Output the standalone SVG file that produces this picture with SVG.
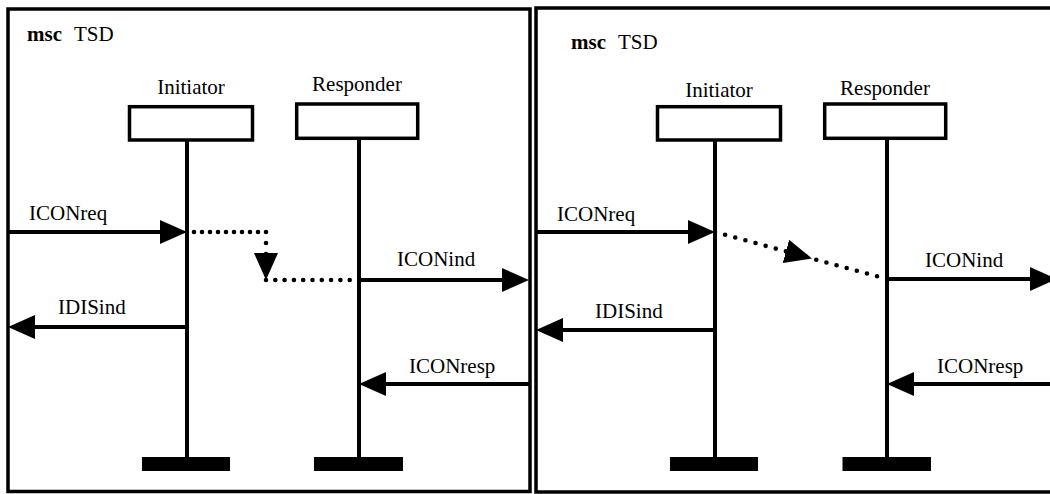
<svg xmlns="http://www.w3.org/2000/svg" width="1050" height="494" viewBox="0 0 1050 494">
<style>
.frame{fill:none;stroke:#000;stroke-width:3.5}
.box{fill:#fff;stroke:#000;stroke-width:3.5}
.life{stroke:#000;stroke-width:4;fill:none}
.msg{stroke:#000;stroke-width:4;fill:none;marker-end:url(#ah)}
.dot{stroke:#000;stroke-width:4.6;stroke-linecap:round;fill:none}
.bar{fill:#000}
text{font-family:"Liberation Serif","Times New Roman",serif;font-size:21px;fill:#000}
.b{font-weight:bold}
.c{text-anchor:middle}
</style>
<defs>
<marker id="ah" markerUnits="userSpaceOnUse" viewBox="0 0 28 24" markerWidth="28" markerHeight="24" refX="17" refY="12" orient="auto">
<path d="M0,0 L27,12 L0,24 z" fill="#000"/>
</marker>
</defs>
<rect width="1050" height="494" fill="#fff"/>
<g id="frame-left">
<rect class="frame" x="8" y="9" width="522" height="482.5"/>
<text x="27" y="41"><tspan class="b">msc</tspan><tspan x="74">TSD</tspan></text>
</g>
<g id="frame-right">
<rect class="frame" x="536" y="8" width="530" height="484"/>
<text x="571" y="48.5"><tspan class="b">msc</tspan><tspan x="618">TSD</tspan></text>
</g>
<g id="initiator-left">
<text class="c" x="191" y="93.5">Initiator</text>
<rect class="box" x="129.5" y="106.7" width="123" height="33.3"/>
<line class="life" x1="187" y1="140" x2="187" y2="458"/>
<rect class="bar" x="142" y="457" width="88" height="14"/>
</g>
<g id="responder-left">
<text class="c" x="357" y="91">Responder</text>
<rect class="box" x="296.7" y="104" width="121" height="34.3"/>
<line class="life" x1="359" y1="138" x2="359" y2="458"/>
<rect class="bar" x="314" y="457" width="89" height="14"/>
</g>
<g id="initiator-right">
<text class="c" x="719" y="96.5">Initiator</text>
<rect class="box" x="657.5" y="106.7" width="123" height="33.3"/>
<line class="life" x1="715" y1="140" x2="715" y2="458"/>
<rect class="bar" x="670" y="457" width="88" height="14"/>
</g>
<g id="responder-right">
<text class="c" x="885" y="95">Responder</text>
<rect class="box" x="824.7" y="104" width="121" height="34.3"/>
<line class="life" x1="887" y1="138" x2="887" y2="458"/>
<rect class="bar" x="842.5" y="457" width="88.5" height="14"/>
</g>
<g id="connectors">
<path class="msg" d="M8,232 H177"/>
<text x="29" y="220">ICONreq</text>
<path class="dot" d="M194,232 H266" stroke-dasharray="0 8"/>
<path class="dot" d="M266,232 V262" stroke-dasharray="0 11"/>
<path d="M266,260 V270" fill="none" stroke="none" style="marker-end:url(#ah)"/>
<path class="dot" d="M266,280 H359" stroke-dasharray="0 9.3"/>
<path class="msg" d="M359,280 H519"/>
<text x="397" y="266">ICONind</text>
<path class="msg" d="M187,327 H18"/>
<text x="58" y="314">IDISind</text>
<path class="msg" d="M529,384 H369"/>
<text x="409" y="372.5">ICONresp</text>

<path class="msg" d="M536,232 H705"/>
<text x="557" y="220.5">ICONreq</text>
<path class="dot" d="M715,232 L887,279" stroke-dasharray="0 10.5"/>
<path d="M792.7,253.2 L802.35,255.86" fill="none" stroke="none" style="marker-end:url(#ah)"/>
<path class="msg" d="M887,279 H1047"/>
<text x="925" y="266.5">ICONind</text>
<path class="msg" d="M715,330 H546"/>
<text x="595" y="318">IDISind</text>
<path class="msg" d="M1057,384 H897"/>
<text x="937" y="372.5">ICONresp</text>
</g>
</svg>
